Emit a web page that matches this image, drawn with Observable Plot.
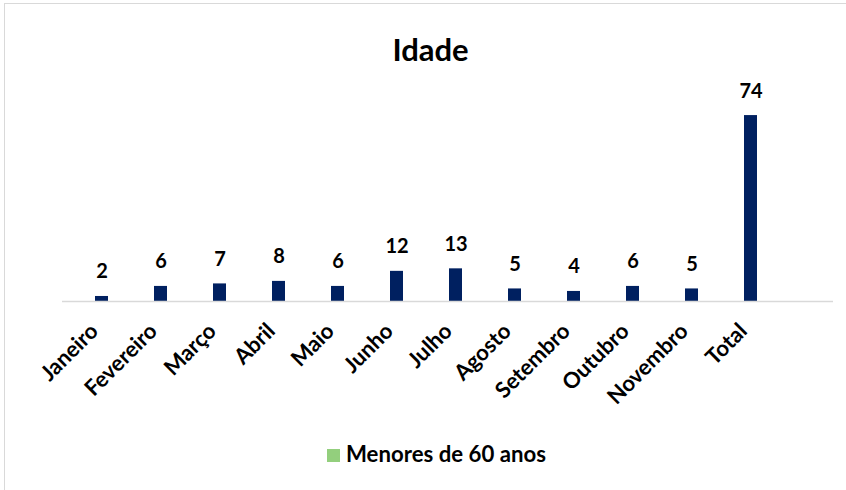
<!DOCTYPE html>
<html><head><meta charset="utf-8">
<script src="https://cdn.jsdelivr.net/npm/d3@7"></script>
<script src="https://cdn.jsdelivr.net/npm/@observablehq/plot@0.6"></script>
<style>
body{margin:0;background:#fff;font-family:Lato,sans-serif;}
#wrap{position:relative;width:846px;height:490px;overflow:hidden;background:#fff;}
#frame{position:absolute;left:4px;top:3px;width:900px;height:600px;border:1.5px solid #d9d9d9;box-sizing:border-box;}
#title{position:absolute;left:0;width:861px;top:30px;text-align:center;font-weight:700;font-size:31px;line-height:normal;color:#000;}
#chart{position:absolute;left:0;top:80px;}
#legend{position:absolute;left:327px;top:440px;display:flex;align-items:flex-start;font-weight:700;font-size:22.2px;line-height:normal;color:#000;}
#legend .sw{width:13px;height:13px;background:#93cf7d;margin-right:6px;margin-top:8.5px;}
</style>
</head><body>
<div id="wrap">
  <div id="frame"></div>
  <div id="title">Idade</div>
  <div id="chart"></div>
  <div id="legend"><span class="sw"></span><span>Menores de 60 anos</span></div>
</div>
<script>
const months = ["Janeiro","Fevereiro","Março","Abril","Maio","Junho","Julho","Agosto","Setembro","Outubro","Novembro","Total"];
const values = [2,6,7,8,6,12,13,5,4,6,5,74];
const barColor = "#002060";
const data = months.map((m, i) => ({month: m, value: values[i]}));

const chart = Plot.plot({
  width: 846,
  height: 340,
  marginLeft: 62,
  marginRight: 13,
  marginTop: 20,
  marginBottom: 119,
  style: {fontFamily: "Lato, sans-serif", fontSize: "20px", fontWeight: "bold", color: "#000", background: "transparent", overflow: "visible"},
  x: {domain: months, paddingInner: 0.776, paddingOuter: 0.388, insetLeft: 8.3, insetRight: 50.3},
  y: {domain: [0, 80], axis: null},
  marks: [
    Plot.barY(data, {x: "month", y: "value", fill: barColor}),
    Plot.ruleY([0], {stroke: "#d9d9d9", strokeWidth: 1.5}),
    Plot.axisX({label: null, tickSize: 0, tickRotate: -45, tickPadding: 12, fontSize: 22, fontWeight: "bold", dx: -7.5, dy: 14}),
    Plot.text(data, {x: "month", y: "value", text: d => String(d.value), dy: -18, lineAnchor: "bottom", fontSize: 20, fontWeight: "bold", fill: "#000"})
  ]
});
document.getElementById("chart").appendChild(chart);
</script>
</body></html>
